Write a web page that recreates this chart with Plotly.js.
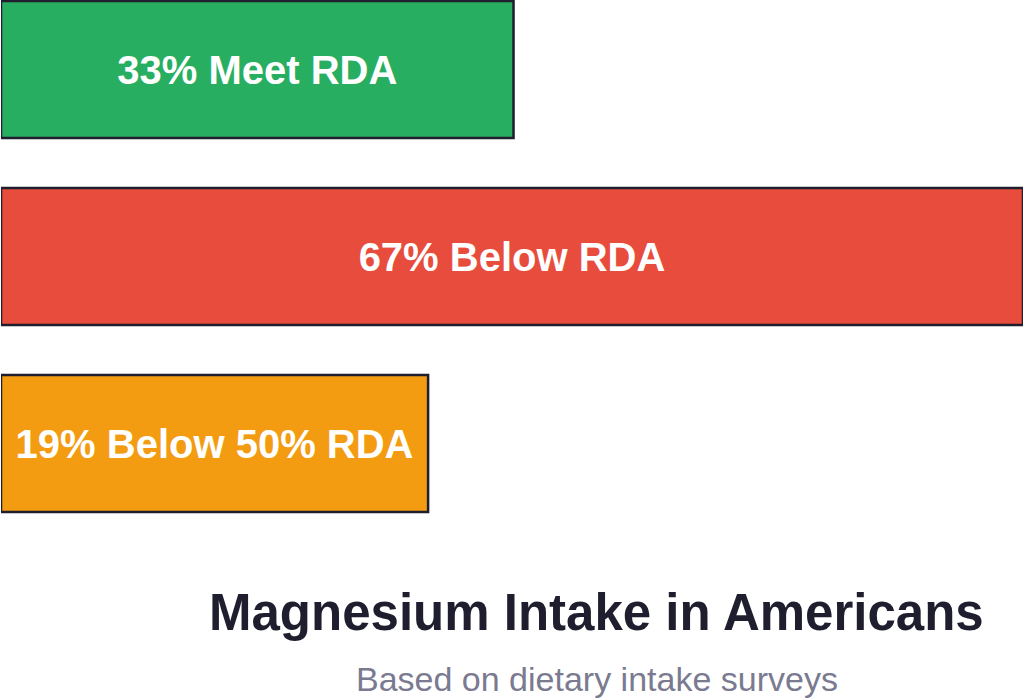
<!DOCTYPE html>
<html>
<head>
<meta charset="utf-8">
<script src="https://cdn.plot.ly/plotly-3.0.1.min.js"></script>
<style>html,body{margin:0;padding:0;background:#fff;}#chart{width:1024px;height:699px;}</style>
</head>
<body>
<div id="chart"></div>
<script>
// Data
var categories = ["Meet RDA", "Below RDA", "Below 50% RDA"];
var barLengths = [33.6, 67, 28.0];
var barLabels = ["33% Meet RDA", "67% Below RDA", "19% Below 50% RDA"];
var barColors = ["#27ae60", "#e74c3c", "#f39c12"];
var titleText = "Magnesium Intake in Americans";
var subtitleText = "Based on dietary intake surveys";

var trace = {
  type: "bar",
  orientation: "h",
  y: categories,
  x: barLengths,
  text: barLabels,
  textposition: "inside",
  insidetextanchor: "middle",
  constraintext: "none",
  cliponaxis: false,
  textfont: {family: "Liberation Sans, Arial, sans-serif", size: 40, color: "#ffffff", weight: "bold"},
  marker: {color: barColors, line: {color: "#1e1e2e", width: 2.5}},
  width: 0.733,
  hoverinfo: "none"
};

var layout = {
  width: 1024,
  height: 699,
  margin: {l: 1, r: 1, t: 0, b: 139},
  paper_bgcolor: "#ffffff",
  plot_bgcolor: "#ffffff",
  showlegend: false,
  xaxis: {range: [0, 67], visible: false, fixedrange: true},
  yaxis: {range: [2.623, -0.372], visible: false, fixedrange: true},
  annotations: [
    {text: "<b>" + titleText + "</b>", xref: "paper", yref: "paper", x: 0.583, y: -0.093,
     xanchor: "center", yanchor: "middle", showarrow: false,
     font: {family: "Liberation Sans, Arial, sans-serif", size: 51, color: "#1e1e2e"}},
    {text: subtitleText, xref: "paper", yref: "paper", x: 0.583, y: -0.213,
     xanchor: "center", yanchor: "middle", showarrow: false,
     font: {family: "Liberation Sans, Arial, sans-serif", size: 34, color: "#7a7a90"}}
  ]
};

Plotly.newPlot("chart", [trace], layout, {displayModeBar: false, staticPlot: true});
</script>
</body>
</html>
